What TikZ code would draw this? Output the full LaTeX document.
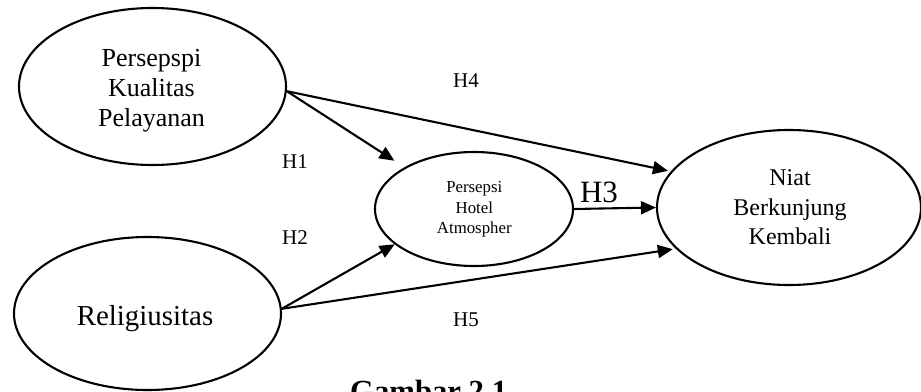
\documentclass[tikz,border=0pt]{standalone}
\usepackage{fontspec}
\setmainfont{Liberation Serif}
\usetikzlibrary{shapes.geometric,arrows.meta}
\begin{document}
\begin{tikzpicture}[x=1pt,y=-1pt,
  oval/.style={ellipse,draw,line width=2.1pt,inner sep=0pt},
  txt/.style={inner sep=0pt,align=center},
  link/.style={line width=2.1pt,-{Triangle[length=15pt,width=13pt]}},
  hyp/.style={inner sep=0pt,font=\fontsize{21}{24}\selectfont}]
\useasboundingbox (0,0) rectangle (921,391);
\clip (0,0) rectangle (921,391);
\fill[white] (0,0) rectangle (921,391);
% ellipses
\node[oval,minimum width=267pt,minimum height=157pt] (pkp) at (152.5,86.5) {};
\node[oval,minimum width=267pt,minimum height=153pt] (rel) at (147.5,313.5) {};
\node[oval,minimum width=198pt,minimum height=114pt] (hotel) at (474,209) {};
\node[oval,minimum width=264pt,minimum height=155pt] (niat) at (789,207.5) {};
% texts
\node[txt,font=\fontsize{26}{30}\selectfont] (pkpt) at (151.5,90.7) {Persepspi\\Kualitas\\Pelayanan};
\node[txt,font=\fontsize{28.9}{33}\selectfont] (relt) at (145,318.3) {Religiusitas};
\node[txt,font=\fontsize{16.8}{20.5}\selectfont] (hotelt) at (474.3,209.6) {Persepsi\\Hotel\\Atmospher};
\node[txt,font=\fontsize{24}{29.5}\selectfont] (niatt) at (790,207.3) {Niat\\Berkunjung\\Kembali};
% connectors
\draw[link,shorten >=12pt] (pkp.-2) -- (hotel.149);
\draw[link,shorten >=3pt] (pkp.-2) -- (niat.163);
\draw[link] (hotel.east) -- (niat.west);
\draw[link] (rel.2) -- (hotel.204);
\draw[link,shorten >=3pt] (rel.2) -- (niat.200);
% hypothesis labels
\node[hyp] (h1) at (295,161.5) {H1};
\node[hyp] (h2) at (295,237.5) {H2};
\node[hyp] (h4) at (466,80.5) {H4};
\node[hyp] (h5) at (466,320) {H5};
\node[inner sep=0pt,font=\fontsize{31}{34}\selectfont] (h3) at (599,192) {H3};
% caption (cut off at the bottom, as in the reference)
\node[inner sep=0pt,anchor=base west,font=\bfseries\fontsize{30.7}{34}\selectfont] (cap) at (350,401) {Gambar 2.1};
\end{tikzpicture}
\end{document}
